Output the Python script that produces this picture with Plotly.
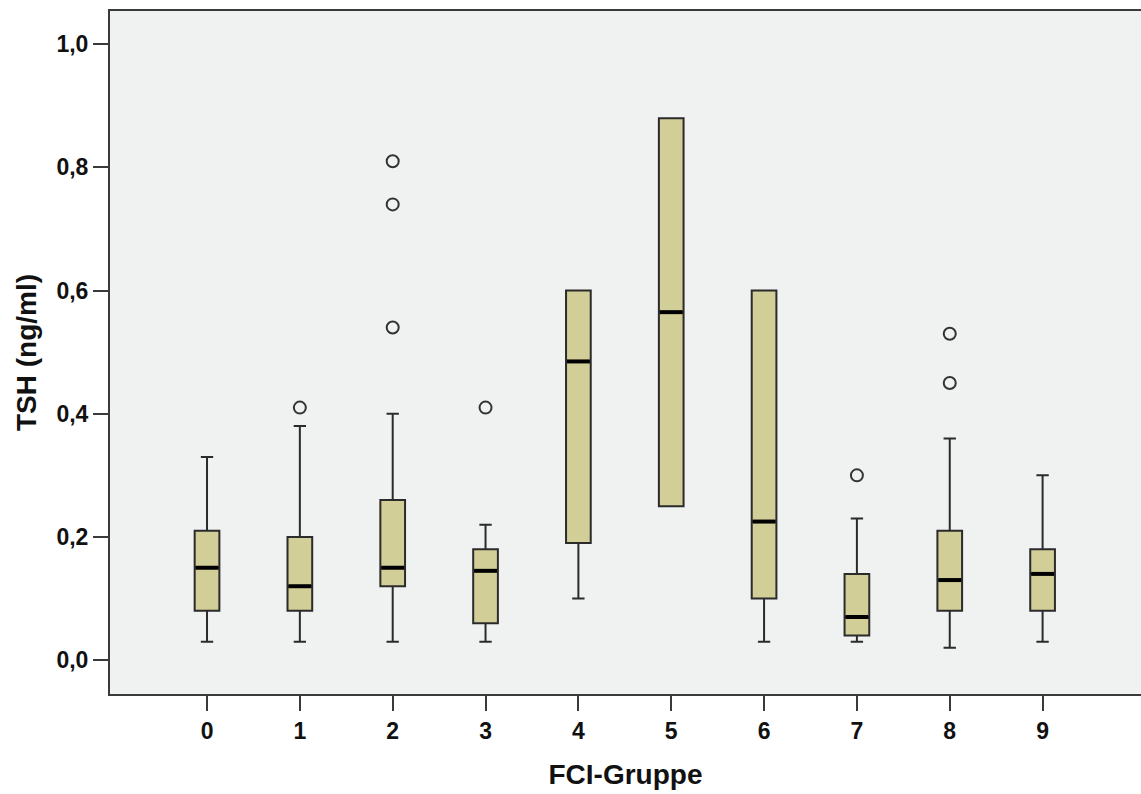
import plotly.graph_objects as go

# TSH by FCI group: five-number summaries per group plus outliers
groups = [0, 1, 2, 3, 4, 5, 6, 7, 8, 9]
lower_whisker = [0.03, 0.03, 0.03, 0.03, 0.10, 0.25, 0.03, 0.03, 0.02, 0.03]
q1 = [0.08, 0.08, 0.12, 0.06, 0.19, 0.25, 0.10, 0.04, 0.08, 0.08]
median = [0.15, 0.12, 0.15, 0.145, 0.485, 0.565, 0.225, 0.07, 0.13, 0.14]
q3 = [0.21, 0.20, 0.26, 0.18, 0.60, 0.88, 0.60, 0.14, 0.21, 0.18]
upper_whisker = [0.33, 0.38, 0.40, 0.22, 0.60, 0.88, 0.60, 0.23, 0.36, 0.30]

outlier_group = [1, 2, 2, 2, 3, 7, 8, 8]
outlier_value = [0.41, 0.81, 0.74, 0.54, 0.41, 0.30, 0.53, 0.45]

y_tick_vals = [0.0, 0.2, 0.4, 0.6, 0.8, 1.0]
y_tick_labels = ["0,0", "0,2", "0,4", "0,6", "0,8", "1,0"]

BOX_WIDTH = 0.266
FILL = "#D2CE97"
EDGE = "#2b2b2b"
AXIS = "#3a3a3a"
FONT = "Liberation Sans"

fig = go.Figure()

fig.add_trace(go.Box(
    x=groups,
    q1=q1,
    median=median,
    q3=q3,
    lowerfence=lower_whisker,
    upperfence=upper_whisker,
    width=BOX_WIDTH,
    whiskerwidth=0.5,
    fillcolor=FILL,
    line=dict(color=EDGE, width=2),
    boxpoints=False,
    hoverinfo="skip",
    showlegend=False,
))

# thick median bars drawn on top of each box
med_x, med_y = [], []
for g, m in zip(groups, median):
    med_x += [g - BOX_WIDTH / 2 + 0.01, g + BOX_WIDTH / 2 - 0.01, None]
    med_y += [m, m, None]
fig.add_trace(go.Scatter(
    x=med_x, y=med_y, mode="lines",
    line=dict(color="#000000", width=4),
    hoverinfo="skip", showlegend=False,
))

fig.add_trace(go.Scatter(
    x=outlier_group, y=outlier_value, mode="markers",
    marker=dict(symbol="circle-open", size=12, color="#333333",
                line=dict(width=2, color="#333333")),
    hoverinfo="skip", showlegend=False,
))

fig.update_layout(
    width=1141, height=794,
    margin=dict(l=110, r=0, t=11, b=100),
    paper_bgcolor="white",
    plot_bgcolor="#F0F1F1",
    font=dict(family=FONT, color="#111111"),
    showlegend=False,
)

fig.update_xaxes(
    range=[-1.045, 10.06],
    tickmode="array",
    tickvals=groups,
    ticktext=[str(g) for g in groups],
    ticks="outside", ticklen=15, tickwidth=2, tickcolor=AXIS,
    tickfont=dict(family=FONT, size=23, weight="bold", color="#111111"),
    showline=True, linecolor=AXIS, linewidth=2, mirror=True,
    showgrid=False, zeroline=False,
    title=dict(text="FCI-Gruppe", standoff=22,
               font=dict(family=FONT, size=28, weight="bold", color="#111111")),
)

fig.update_yaxes(
    range=[-0.055, 1.054],
    tickmode="array",
    tickvals=y_tick_vals,
    ticktext=y_tick_labels,
    ticks="outside", ticklen=15, tickwidth=2, tickcolor=AXIS,
    tickfont=dict(family=FONT, size=23, weight="bold", color="#111111"),
    showline=True, linecolor=AXIS, linewidth=2, mirror=False,
    showgrid=False, zeroline=False,
    title=dict(text="TSH (ng/ml)", standoff=12,
               font=dict(family=FONT, size=28, weight="bold", color="#111111")),
)

fig.write_html("out.html")
